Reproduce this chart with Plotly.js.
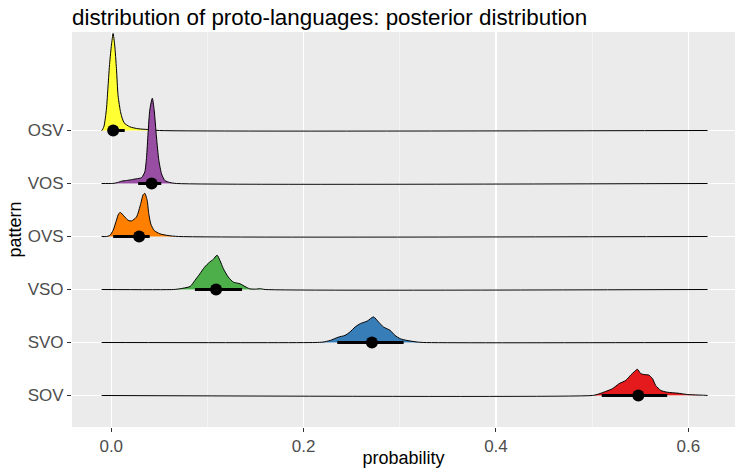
<!DOCTYPE html>
<html><head><meta charset="utf-8">
<script src="https://cdn.plot.ly/plotly-3.0.1.min.js"></script>
<style>html,body{margin:0;padding:0;background:#fff}#chart{width:735px;height:468px}</style>
</head><body><div id="chart"></div><script>
// categories bottom -> top
const patterns = ["SOV", "SVO", "VSO", "OVS", "VOS", "OSV"];
const fillColors = ["#E41A1C", "#377EB8", "#4DAF4A", "#FF7F00", "#984EA3", "#FFFF33"];

// posterior densities (relative height, OSV peak = 1)
const sovX = [0.500, 0.505, 0.512, 0.521, 0.528, 0.535, 0.540, 0.5435, 0.547, 0.5505, 0.554, 0.559, 0.5627, 0.566, 0.5714, 0.578, 0.589, 0.599, 0.610, 0.616];
const sovD = [0.000, 0.010, 0.034, 0.070, 0.122, 0.156, 0.210, 0.243, 0.270, 0.226, 0.216, 0.210, 0.174, 0.104, 0.052, 0.034, 0.024, 0.010, 0.005, 0.003];
const svoX = [0.212, 0.220, 0.2276, 0.236, 0.243, 0.248, 0.2536, 0.259, 0.266, 0.2727, 0.278, 0.283, 0.290, 0.295, 0.3005, 0.3075, 0.318, 0.325];
const svoD = [0.000, 0.004, 0.021, 0.055, 0.073, 0.107, 0.160, 0.195, 0.220, 0.264, 0.210, 0.160, 0.125, 0.073, 0.039, 0.021, 0.005, 0.000];
const vsoX = [0.065, 0.071, 0.082, 0.087, 0.092, 0.097, 0.102, 0.106, 0.110, 0.113, 0.1165, 0.1217, 0.127, 0.134, 0.139, 0.144, 0.150, 0.155, 0.160];
const vsoD = [0.000, 0.007, 0.031, 0.094, 0.160, 0.230, 0.280, 0.310, 0.354, 0.300, 0.216, 0.128, 0.076, 0.059, 0.031, 0.007, 0.004, 0.008, 0.000];
const ovsX = [-0.005, -0.0016, 0.0019, 0.0054, 0.0078, 0.0096, 0.0133, 0.0175, 0.021, 0.0262, 0.0307, 0.0331, 0.0349, 0.0373, 0.039, 0.0411, 0.0446, 0.0505, 0.059, 0.070];
const ovsD = [0.000, 0.010, 0.0625, 0.167, 0.236, 0.247, 0.210, 0.167, 0.160, 0.200, 0.340, 0.430, 0.445, 0.375, 0.236, 0.130, 0.0625, 0.028, 0.010, 0.000];
const vosX = [0.000, 0.003, 0.0065, 0.0106, 0.0158, 0.021, 0.0262, 0.0315, 0.0349, 0.0367, 0.0383, 0.0401, 0.0427, 0.0446, 0.047, 0.0495, 0.0523, 0.0557, 0.061, 0.068];
const vosD = [0.000, 0.002, 0.010, 0.024, 0.031, 0.039, 0.049, 0.060, 0.120, 0.270, 0.520, 0.760, 0.880, 0.760, 0.480, 0.240, 0.100, 0.031, 0.010, 0.000];
const osvX = [-0.0096, -0.0075, -0.005, -0.0033, -0.0016, 0.0002, 0.0019, 0.0036, 0.0054, 0.0071, 0.0099, 0.0133, 0.0193, 0.028, 0.038, 0.050];
const osvD = [0.000, 0.045, 0.220, 0.460, 0.700, 0.880, 1.000, 0.880, 0.640, 0.360, 0.180, 0.080, 0.038, 0.018, 0.010, 0.000];

const densX = [sovX, svoX, vsoX, ovsX, vosX, osvX];
const densD = [sovD, svoD, vsoD, ovsD, vosD, osvD];

// point summaries: median and interval
const medians = [0.548, 0.271, 0.109, 0.029, 0.042, 0.002];
const lower = [0.510, 0.235, 0.087, 0.002, 0.028, -0.001];
const upper = [0.578, 0.304, 0.136, 0.040, 0.052, 0.014];

const slabMin = -0.01, slabMax = 0.62;
const slabScale = 1.83;

const traces = [];
// draw from top category down so lower slabs overlay upper baselines
for (let i = patterns.length - 1; i >= 0; i--) {
  const ys = densD[i].map(d => i + d * slabScale);
  traces.push({
    type: "scatter", mode: "lines", x: densX[i], y: ys,
    fill: "toself", fillcolor: fillColors[i],
    line: {width: 0, shape: "spline", smoothing: 0.6},
    hoverinfo: "skip", showlegend: false
  });
  traces.push({
    type: "scatter", mode: "lines",
    x: [slabMin].concat(densX[i], [slabMax]),
    y: [i].concat(ys, [i]),
    line: {color: "#000", width: 1, shape: "spline", smoothing: 0.6},
    hoverinfo: "skip", showlegend: false
  });
}
for (let i = 0; i < patterns.length; i++) {
  traces.push({
    type: "scatter", mode: "lines", x: [lower[i], upper[i]], y: [i, i],
    line: {color: "#000", width: 3}, hoverinfo: "skip", showlegend: false
  });
}
traces.push({
  type: "scatter", mode: "markers", x: medians, y: patterns.map((p, i) => i),
  marker: {color: "#000", size: 12}, showlegend: false
});

const layout = {
  width: 735, height: 468,
  margin: {l: 72, r: 0, t: 32, b: 41},
  paper_bgcolor: "#fff", plot_bgcolor: "#EBEBEB",
  font: {family: "Liberation Sans, Arial, sans-serif"},
  title: {text: "distribution of proto-languages: posterior distribution",
    x: 72 / 735, xanchor: "left", xref: "container", y: 1 - 17 / 468, yanchor: "middle",
    font: {size: 22.4, color: "#000"}},
  xaxis: {
    range: [-0.0408, 0.6485], tickvals: [0, 0.2, 0.4, 0.6], ticktext: ["0.0", "0.2", "0.4", "0.6"],
    ticks: "outside", ticklen: 4, tickcolor: "#333", tickwidth: 1,
    tickfont: {size: 17, color: "#4D4D4D"},
    showgrid: true, gridcolor: "#fff", gridwidth: 1.1, zeroline: false, showline: false,
    minor: {tickvals: [0.1, 0.3, 0.5], showgrid: true, gridcolor: "#fff", gridwidth: 0.5, ticks: ""},
    title: {text: "probability", font: {size: 18, color: "#000"}, standoff: 2},
    automargin: false, fixedrange: true
  },
  yaxis: {
    range: [-0.5943, 6.8585], tickvals: patterns.map((p, i) => i), ticktext: patterns,
    ticks: "outside", ticklen: 4, tickcolor: "#333", tickwidth: 1,
    tickfont: {size: 17, color: "#4D4D4D"},
    showgrid: true, gridcolor: "#fff", gridwidth: 1.1, zeroline: false, showline: false,
    title: {text: "pattern", font: {size: 18, color: "#000"}, standoff: 1},
    automargin: false, fixedrange: true
  },
  showlegend: false
};
Plotly.newPlot("chart", traces, layout, {displayModeBar: false, staticPlot: true});
</script></body></html>
